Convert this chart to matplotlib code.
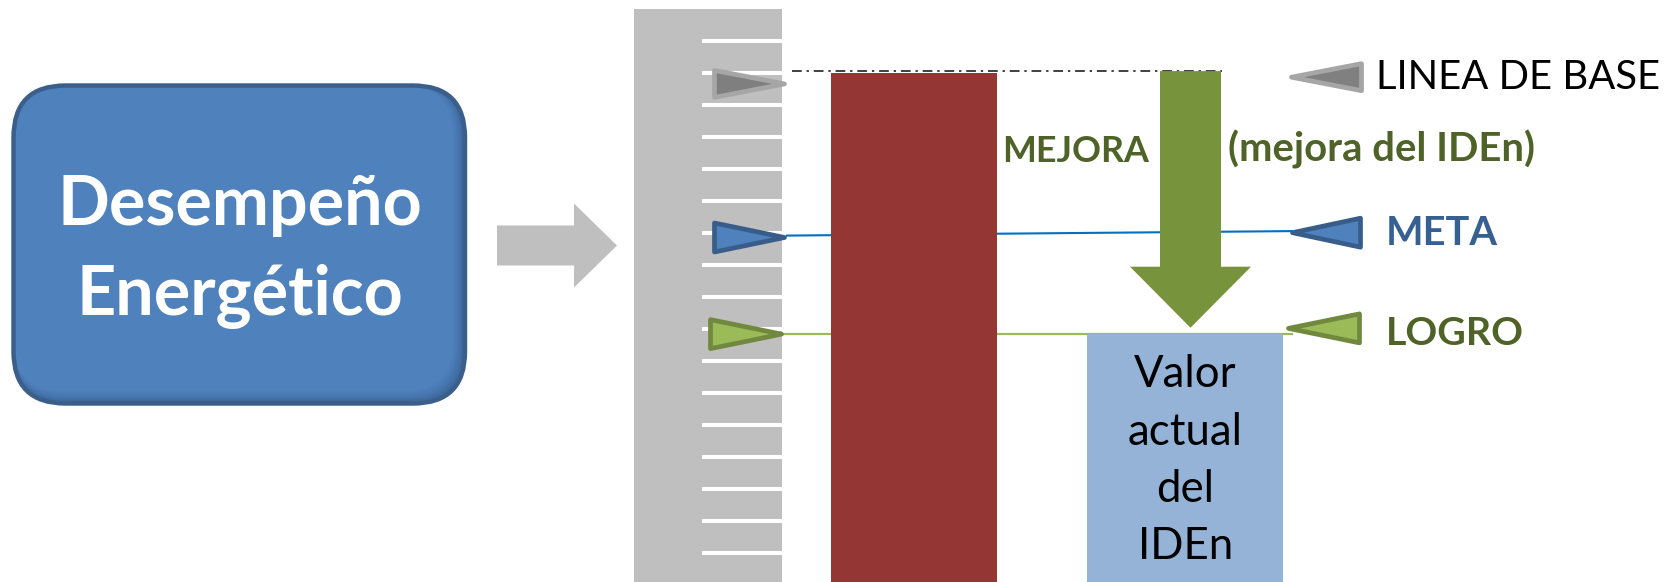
import matplotlib
matplotlib.use("Agg")
import matplotlib.pyplot as plt
from matplotlib.patches import Polygon, FancyBboxPatch

# ---------------- data ----------------
ruler_ticks = list(range(0, 17))          # scale marks on the ruler
ruler_top = 17
level_names = ["LINEA DE BASE", "META", "LOGRO"]
level_values = [15.0, 10.0, 6.83]          # baseline, target, achievement
bar_names = ["Línea de base", "Valor actual del IDEn"]
bar_values = [15.0, 6.83]
box_lines = ["Desempeño", "Energético"]
bar_text_lines = ["Valor", "actual", "del", "IDEn"]
arrow_labels = ["MEJORA", "(mejora del IDEn)"]

# ---------------- layout ----------------
W, H = 1677, 582
DPI = 100
Y0, UNIT = 552.7, 32.0          # pixel row of value 0, pixels per value unit


def v(ypx):
    """pixel row -> value units (layout helper)"""
    return (Y0 - ypx) / UNIT


FONT = "Lato"
fig = plt.figure(figsize=(W / DPI, H / DPI), dpi=DPI)
ax = fig.add_axes([0, 0, 1, 1])
ax.set_xlim(0, W)
ax.set_ylim(v(H), v(0))
ax.axis("off")
bottom = v(H) - 1

# left rounded box with soft inner shading
bx0, bx1, by0, by1 = 13.5, 465.0, 85.5, 403.5
shade = ["#3B6495", "#3F6A9E", "#4370A7", "#4775AE", "#4A7AB4", "#4D7EB9", "#4F81BD"]
for i, c in enumerate(shade):
    ins = i * 2.0
    ax.add_patch(FancyBboxPatch((bx0, v(by1 - ins)), (bx1 - ins) - bx0,
                                v(by0) - v(by1 - ins),
                                boxstyle="round,pad=0,rounding_size=50",
                                mutation_aspect=1 / UNIT, fc=c, ec="none", zorder=2))
ax.add_patch(FancyBboxPatch((bx0, v(by1)), bx1 - bx0, v(by0) - v(by1),
                            boxstyle="round,pad=0,rounding_size=52",
                            mutation_aspect=1 / UNIT, fc="none", ec="#3A5F8B",
                            lw=3.2, zorder=3))

# grey block arrow
ax.add_patch(Polygon([(497, v(225.5)), (574, v(225.5)), (574, v(203.5)), (617, v(245.5)),
                      (574, v(287.5)), (574, v(265.5)), (497, v(265.5))],
                     closed=True, fc="#BFBFBF", ec="none", zorder=2))

# ruler
ax.bar(634, ruler_top - bottom, bottom=bottom, width=148, align="edge",
       color="#BFBFBF", zorder=2)
ax.hlines(ruler_ticks, 702, 782, colors="white", lw=2.9, zorder=3)

base, meta, logro = level_values

# level lines
ax.plot([792, 1222], [base + 0.05, base + 0.05], color="#404040", lw=1.4,
        ls=(0, (5, 2.5, 1.2, 2.5)), zorder=2)
ax.plot([787, 1292], [meta - 0.09, meta + 0.05], color="#0070C0", lw=1.5, zorder=2)
ax.plot([784, 1292], [logro, logro], color="#9BBB59", lw=1.6, zorder=2)

# bars
ax.bar([831, 1087], [bar_values[0] - bottom, bar_values[1] - bottom], bottom=bottom,
       width=[166, 196], align="edge", color=["#943634", "#95B3D7"], zorder=4)

# green down arrow (from baseline towards the achievement)
tip = logro + 0.2
ax.add_patch(Polygon([(1160, base + 0.05), (1221, base + 0.05), (1221, v(266.7)),
                      (1251, v(266.7)), (1190.5, tip), (1130, v(266.7)), (1160, v(266.7))],
                     closed=True, fc="#77933C", ec="none", zorder=5))


def tri(xb, xt, yc, half, fc, ec):
    ax.add_patch(Polygon([(xb, yc + half / UNIT), (xb, yc - half / UNIT), (xt, yc)],
                         closed=True, fc=fc, ec=ec, lw=3.4, joinstyle="round", zorder=6))


# left markers (pointing right)
tri(714.5, 784.5, base - 0.35, 13.5, "#7F7F7F", "#A6A6A6")
tri(714.5, 784.5, meta - 0.15, 14.5, "#4F81BD", "#385D8A")
tri(710.5, 781.5, logro, 14.5, "#9BBB59", "#71893F")
# right markers (pointing left)
tri(1361.5, 1291.5, base - 0.14, 13.5, "#808080", "#A6A6A6")
tri(1360.5, 1292.5, meta + 0.0, 14.5, "#4F81BD", "#385D8A")
tri(1359.5, 1288.5, logro + 0.18, 14.5, "#9BBB59", "#71893F")

# ---------------- texts ----------------
texts = []


def T(x, ypx, s, size, target=None, **kw):
    t = ax.text(x, v(ypx), s, fontsize=size, family=FONT, va="baseline", zorder=8, **kw)
    texts.append((t, target))
    return t


t_des = T(240, 225, box_lines[0], 48, 365, color="white", weight="bold", ha="center")
t_ene = T(240, 315, box_lines[1], 48, None, color="white", weight="bold", ha="center")
t_lb = T(1376, 89.3, level_names[0], 34, 285, color="black", ha="left")
t_mej = T(1075.5, 161.7, arrow_labels[0], 30, 147, color="#4F6228", weight="bold", ha="center")
t_mp = T(1382, 161.7, arrow_labels[1], 30, 306, color="#4F6228", weight="bold", ha="center")
t_meta = T(1442, 245, level_names[1], 34, 112, color="#376092", weight="bold", ha="center")
t_log = T(1455, 345, level_names[2], 34, 138, color="#4F6228", weight="bold", ha="center")
bt = []
for s, yb in zip(bar_text_lines, [387.3, 445, 501.7, 559.3]):
    bt.append(T(1185.5, yb, s, 32, 115 if s == "actual" else None,
                color="black", ha="center"))

fig.canvas.draw()
r = fig.canvas.get_renderer()
for t, target in texts:
    if target:
        w = t.get_window_extent(r).width
        t.set_fontsize(t.get_fontsize() * target / w)
t_ene.set_fontsize(t_des.get_fontsize())
for t in bt:
    t.set_fontsize(bt[1].get_fontsize())

fig.savefig("out.png", dpi=DPI, facecolor="white")
